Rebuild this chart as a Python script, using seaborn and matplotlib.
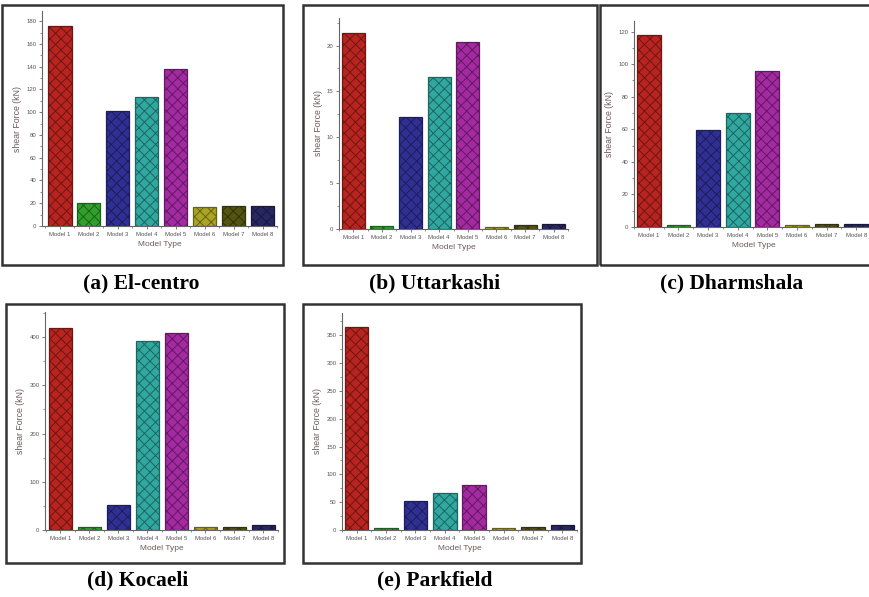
import numpy as np
import matplotlib
matplotlib.use('Agg')
import matplotlib.pyplot as plt
import matplotlib.colors as mcolors
from matplotlib.patches import Rectangle
from matplotlib.ticker import MultipleLocator
import seaborn as sns

# datos
modelos = ['Model 1', 'Model 2', 'Model 3', 'Model 4', 'Model 5', 'Model 6', 'Model 7', 'Model 8']
colores = ['#b82420', '#30a02c', '#303094', '#30a8a0', '#a42aa2', '#aaa422', '#545312', '#282764']

el_centro = [175.5, 20.5, 101, 113.8, 137.7, 16.4, 17.4, 17.2]
uttarkashi = [21.4, 0.3, 12.2, 16.6, 20.4, 0.25, 0.43, 0.54]
dharmshala = [118, 1.0, 59.5, 70.1, 95.9, 1.0, 1.6, 1.6]
kocaeli = [418, 7, 52.5, 392, 408, 7, 6, 11]
parkfield = [365, 3, 53, 66.7, 81, 3, 5, 8.4]

titulos = ['(a) El-centro', '(b) Uttarkashi', '(c) Dharmshala', '(d) Kocaeli', '(e) Parkfield']
series = [el_centro, uttarkashi, dharmshala, kocaeli, parkfield]

W, H = 870, 597
sns.set_style('white')
plt.rcParams['font.family'] = ['Liberation Sans', 'DejaVu Sans']
plt.rcParams['hatch.linewidth'] = 0.7

fig = plt.figure(figsize=(W / 100, H / 100), dpi=100)

# posiciones en pixeles: (izq, der, arriba, abajo) de los ejes, caja, titulo, ylim, paso, xlim
paneles = [
    dict(ax=(42, 277, 11, 226), caja=(2, 283, 5, 265), tit=(141, 283), ymax=189, paso=20, xl=(-0.62, 7.48)),
    dict(ax=(339, 568, 18, 229), caja=(303, 597, 5, 265), tit=(435, 283), ymax=23, paso=5, xl=(-0.5, 7.47)),
    dict(ax=(634, 874, 21, 227), caja=(600, 878, 5, 265), tit=(732, 283), ymax=126.5, paso=20, xl=(-0.5, 7.6)),
    dict(ax=(45, 278, 312, 530), caja=(6, 284, 304, 563), tit=(138, 580), ymax=452, paso=100, xl=(-0.53, 7.5)),
    dict(ax=(342, 577, 313, 530), caja=(303, 581, 304, 563), tit=(435, 580), ymax=390, paso=50, xl=(-0.5, 7.47)),
]


def oscurecer(c, f=0.6):
    r, g, b = mcolors.to_rgb(c)
    return (r * f, g * f, b * f)


for p, vals, tit in zip(paneles, series, titulos):
    l, r, t, b = p['ax']
    ax = fig.add_axes([l / W, 1 - b / H, (r - l) / W, (b - t) / H])
    sns.barplot(x=modelos, y=vals, hue=modelos, palette=colores, legend=False,
                ax=ax, width=0.8, saturation=1)
    for barra in ax.patches:
        fc = barra.get_facecolor()
        barra.set_edgecolor(oscurecer(fc))
        barra.set_linewidth(0.9)
        barra.set_hatch('xxx')
    ax.set_xlim(*p['xl'])
    ax.set_ylim(0, p['ymax'])
    ax.yaxis.set_major_locator(MultipleLocator(p['paso']))
    ax.yaxis.set_minor_locator(MultipleLocator(p['paso'] / 2))
    ax.set_xticks(np.arange(-0.5, 8, 1), minor=True)
    ax.tick_params(axis='both', which='major', direction='out', length=2.5, width=0.6,
                   colors='#666666', labelsize=4.3, labelcolor='#555555', pad=1.5)
    ax.tick_params(axis='both', which='minor', direction='out', length=1.5, width=0.5, colors='#666666')
    ax.tick_params(left=True, bottom=True)
    ax.tick_params(which='minor', left=True, bottom=True)
    for lado in ['top', 'right']:
        ax.spines[lado].set_visible(False)
    for lado in ['left', 'bottom']:
        ax.spines[lado].set_color('#666666')
        ax.spines[lado].set_linewidth(0.8)
    ax.set_xlabel('Model Type', fontsize=6, color='#6b5c58', labelpad=3)
    ax.set_ylabel('shear Force (kN)', fontsize=6.3, color='#6b5c58', labelpad=3)
    ax.set_facecolor('white')

    x0, x1, y0, y1 = p['caja']
    fig.patches.append(Rectangle((x0 / W, 1 - y1 / H), (x1 - x0) / W, (y1 - y0) / H,
                                 transform=fig.transFigure, fill=False,
                                 edgecolor='#333333', linewidth=1.8))
    cx, cy = p['tit']
    fig.text(cx / W, 1 - cy / H, tit, ha='center', va='center', fontsize=15.5,
             fontweight='bold', color='black', family=['Liberation Serif', 'DejaVu Serif'])

fig.savefig('out.png', dpi=100)
